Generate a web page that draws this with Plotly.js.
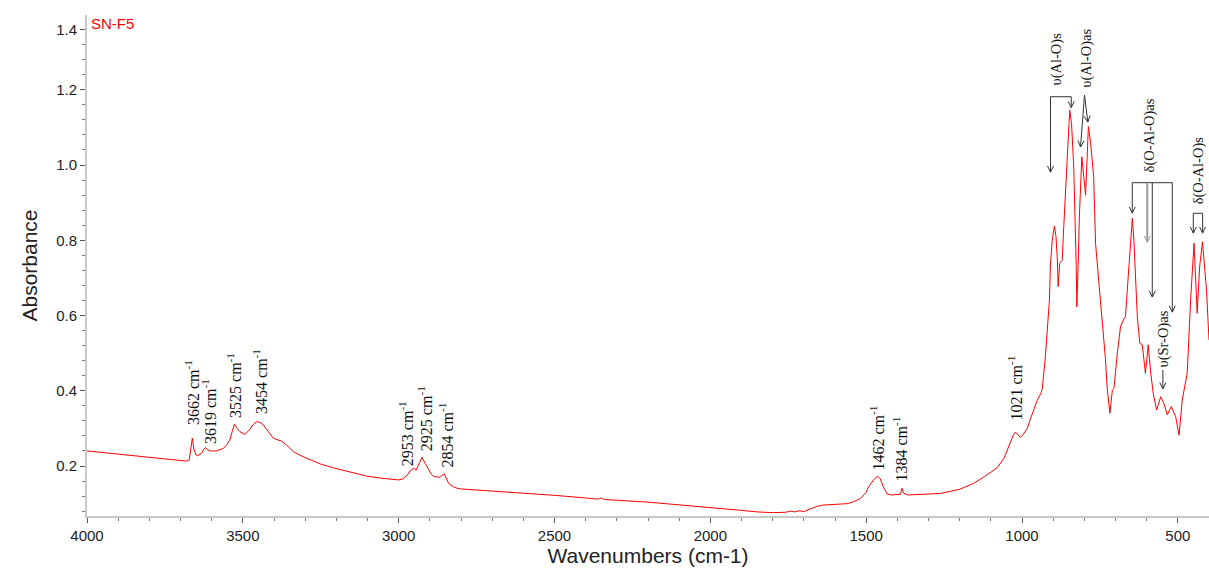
<!DOCTYPE html>
<html>
<head>
<meta charset="utf-8">
<script src="https://cdn.plot.ly/plotly-3.0.1.min.js"></script>
<style>html,body{margin:0;padding:0;background:#fff;}#chart{width:1209px;height:570px;}</style>
</head>
<body>
<div id="chart"></div>
<script>
// ---- data: FTIR spectrum SN-F5 ----
const wavenumbers = [4000,3900,3800,3700,3680,3672,3666,3662,3657,3650,3646,3638,3632,3624,3619,3612,3605,3584,3562,3550,3541,3533,3527,3518,3509,3493,3477,3465,3455,3445,3434,3418,3402,3390,3375,3360,3338,3310,3284,3250,3209,3150,3102,3050,3000,2985,2970,2963,2952,2944,2935,2925,2915,2909,2895,2888,2867,2860,2854,2847,2840,2825,2813,2800,2700,2600,2500,2400,2360,2350,2340,2200,2100,2000,1900,1850,1800,1760,1740,1730,1715,1700,1680,1660,1640,1600,1560,1540,1518,1500,1492,1476,1468,1462,1455,1445,1433,1420,1400,1390,1385,1380,1368,1300,1262,1200,1155,1120,1080,1058,1037,1028,1021,1013,1005,998,983,973,967,951,940,935,925,919,912,909,903,896,891,887,884,879,871,866,855,847,841,834,826,824,820,816,808,796,792,787,780,770,764,748,732,727,718,710,705,694,684,675,668,657,646,641,636,630,622,614,604,595,588,579,568,555,545,534,521,507,496,486,470,459,448,443,438,430,421,408,400];
const absorbance = [0.240,0.232,0.223,0.215,0.213,0.216,0.245,0.274,0.245,0.229,0.227,0.230,0.234,0.246,0.249,0.243,0.240,0.240,0.247,0.258,0.271,0.295,0.311,0.300,0.291,0.284,0.298,0.312,0.318,0.316,0.309,0.291,0.274,0.270,0.266,0.256,0.238,0.226,0.216,0.205,0.195,0.182,0.173,0.167,0.163,0.166,0.178,0.187,0.194,0.189,0.205,0.223,0.207,0.198,0.178,0.172,0.170,0.176,0.179,0.168,0.154,0.145,0.141,0.139,0.134,0.128,0.122,0.115,0.112,0.115,0.111,0.104,0.097,0.091,0.082,0.078,0.076,0.077,0.080,0.078,0.081,0.079,0.086,0.092,0.096,0.097,0.100,0.105,0.114,0.130,0.145,0.163,0.170,0.172,0.166,0.145,0.126,0.123,0.123,0.125,0.141,0.128,0.123,0.125,0.127,0.138,0.154,0.172,0.195,0.220,0.260,0.282,0.290,0.283,0.276,0.282,0.300,0.325,0.340,0.375,0.392,0.405,0.490,0.553,0.641,0.730,0.800,0.838,0.810,0.756,0.677,0.739,0.747,0.836,1.040,1.146,1.110,0.995,0.730,0.623,0.730,0.862,1.022,0.920,1.000,1.102,1.060,0.969,0.792,0.641,0.482,0.411,0.340,0.402,0.406,0.500,0.570,0.588,0.597,0.730,0.858,0.800,0.686,0.597,0.526,0.522,0.446,0.522,0.455,0.393,0.349,0.384,0.367,0.336,0.358,0.331,0.282,0.375,0.446,0.641,0.792,0.686,0.606,0.730,0.796,0.668,0.535];

// peak labels
const peakWavenumbers = [3662,3619,3525,3454,2953,2925,2854,1462,1384,1021];
const peakLabelX      = [3663,3608,3528,3445,2976,2915,2847,1464,1390,1021];
const peakLabelY      = [0.394,0.344,0.413,0.426,0.285,0.325,0.282,0.274,0.245,0.407];

// ticks
const xTickVals = [4000,3500,3000,2500,2000,1500,1000,500];
const yTickVals = [0.2,0.4,0.6,0.8,1.0,1.2,1.36];
const yTickText = ['0.2','0.4','0.6','0.8','1.0','1.2','1.4'];

const sampleName = 'SN-F5';

// band assignment labels
const bandLabels = [
  {text:'υ(Al-O)s',   x:889, y:1.282},
  {text:'υ(Al-O)as',  x:793, y:1.284},
  {text:'δ(O-Al-O)as',x:591, y:1.080},
  {text:'υ(Sr-O)as',  x:546, y:0.5375},
  {text:'δ(O-Al-O)s', x:433, y:0.985}
];
// bracket horizontals [x0, x1, y]
const bracketBars = [[908.5,842,1.1815],[646.2,517.8,0.953],[450.4,420.5,0.8716]];
// arrows [tailX, tailY, headX, headY, color, width]
const arrows = [
  [908.5,1.1815,908.5,0.981,'#333',1],
  [842,1.1815,842,1.1526,'#333',1],
  [799.4,1.186,812.2,1.048,'#333',1],
  [799.4,1.186,788.8,1.114,'#333',1],
  [646.2,0.953,646.2,0.872,'#333',1],
  [598.1,0.953,598.1,0.795,'#9a9a9a',2],
  [582,0.953,582,0.649,'#333',1],
  [517.8,0.953,517.8,0.609,'#333',1],
  [548,0.455,548,0.405,'#333',1],
  [450.4,0.8716,450.4,0.819,'#333',1],
  [420.5,0.8716,420.5,0.819,'#333',1]
];

const X_RANGE = [4000,400];
const Y_RANGE = [0.0671,1.3987];
const M = {l:87, r:0, t:15, b:54};
const W = 1209, H = 570;
const pxPerX = (W - M.l - M.r) / Math.abs(X_RANGE[1]-X_RANGE[0]);
const pxPerY = (H - M.t - M.b) / (Y_RANGE[1]-Y_RANGE[0]);

const trace = {
  x: wavenumbers, y: absorbance, type:'scatter', mode:'lines',
  line:{color:'#ff0000', width:1}, hoverinfo:'x+y', showlegend:false
};

const annotations = [];
peakWavenumbers.forEach((p,i)=>{
  annotations.push({
    x: peakLabelX[i], y: peakLabelY[i], xref:'x', yref:'y',
    text: p + ' cm<sup>-1</sup>', showarrow:false, textangle:-90,
    xanchor:'center', yanchor:'middle',
    font:{family:'Liberation Serif, Times New Roman, serif', size:16, color:'#111'}
  });
});
bandLabels.forEach(b=>{
  annotations.push({
    x:b.x, y:b.y, xref:'x', yref:'y', text:b.text, showarrow:false, textangle:-90,
    xanchor:'center', yanchor:'middle',
    font:{family:'Liberation Serif, Times New Roman, serif', size:14.5, color:'#111'}
  });
});
annotations.push({
  x:3992, y:1.375, xref:'x', yref:'y', text:sampleName, showarrow:false,
  xanchor:'left', yanchor:'middle',
  font:{family:'Liberation Sans, Arial, sans-serif', size:15, color:'#ff0000'}
});

const shapes = bracketBars.map(b=>({
  type:'line', xref:'x', yref:'y', x0:b[0], x1:b[1], y0:b[2], y1:b[2],
  line:{color:'#333', width:1}
}));
// arrows as line + open V head (head computed in screen pixels, converted to data units)
arrows.forEach(a=>{
  const [tx,ty,hx,hy,col,wd] = a;
  shapes.push({type:'line', xref:'x', yref:'y', x0:tx, y0:ty, x1:hx, y1:hy, line:{color:col, width:wd}});
  const dx = -(hx-tx)*pxPerX, dy = -(hy-ty)*pxPerY;
  const len = Math.hypot(dx,dy) || 1;
  const ux = dx/len, uy = dy/len;
  const L = 7, ang = 0.45;
  const pts = [ang,-ang].map(s=>{
    const c = Math.cos(s), sn = Math.sin(s);
    const bx = -(ux*c - uy*sn)*L, by = -(ux*sn + uy*c)*L;
    return [hx - bx/pxPerX, hy - by/pxPerY];
  });
  shapes.push({type:'path', xref:'x', yref:'y',
    path:`M${pts[0][0]},${pts[0][1]} L${hx},${hy} L${pts[1][0]},${pts[1][1]}`,
    line:{color:col, width:1}});
});

const layout = {
  width:W, height:H,
  margin:M,
  paper_bgcolor:'#fff', plot_bgcolor:'#fff',
  font:{family:'Liberation Sans, Arial, sans-serif', color:'#222'},
  xaxis:{
    range:X_RANGE, showgrid:false, zeroline:false,
    showline:true, linecolor:'#c8c8c8', linewidth:2,
    tickmode:'array', tickvals:xTickVals,
    ticks:'outside', ticklen:5, tickcolor:'#555', tickwidth:1,
    minor:{tickmode:'linear', tick0:0, dtick:100, ticks:'outside', ticklen:3, tickcolor:'#777'},
    tickfont:{size:15, color:'#222'},
    title:{text:'Wavenumbers (cm-1)', font:{size:21, color:'#222'}, standoff:4}
  },
  yaxis:{
    range:Y_RANGE, showgrid:false, zeroline:false,
    showline:true, linecolor:'#c8c8c8', linewidth:2,
    tickmode:'array', tickvals:yTickVals, ticktext:yTickText,
    ticks:'outside', ticklen:5, tickcolor:'#555', tickwidth:1,
    minor:{tickmode:'linear', tick0:0, dtick:0.04, ticks:'outside', ticklen:3, tickcolor:'#777'},
    tickfont:{size:15, color:'#222'},
    title:{text:'Absorbance', font:{size:21, color:'#222'}, standoff:13}
  },
  annotations: annotations,
  shapes: shapes
};

Plotly.newPlot('chart', [trace], layout, {displayModeBar:false});
</script>
</body>
</html>
